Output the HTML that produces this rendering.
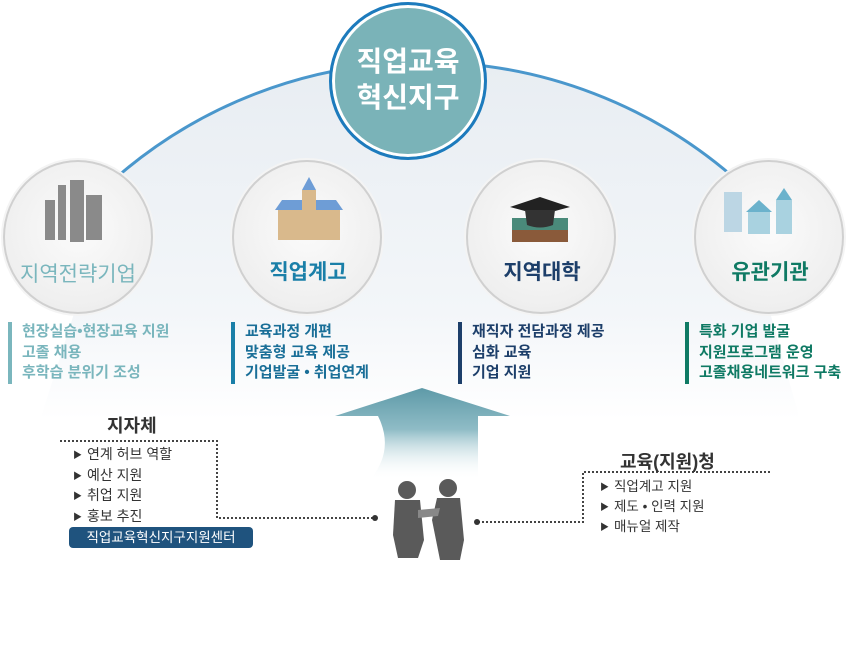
<!DOCTYPE html>
<html><head><meta charset="utf-8"><style>
body{margin:0;width:862px;height:670px;background:#fff;overflow:hidden;position:relative;font-family:"Liberation Sans","Noto Sans CJK KR",sans-serif}
.a{position:absolute;white-space:nowrap}
.list{position:absolute;font-weight:bold;font-size:15px;line-height:20.5px;padding-left:10px}
.n{position:absolute;width:146px;height:150px;border-radius:50%;background:radial-gradient(circle at 50% 45%,#fbfbfb,#efefef 70%,#e4e4e4);border:2px solid #d0d0d0;box-shadow:0 0 0 2px #f4f4f4}
.nl{position:absolute;font-size:21px;text-align:center;width:150px;font-weight:bold}
.it{font-size:14px;color:#333;line-height:19.5px}
.it span{font-size:9px;margin-right:5px;vertical-align:1px}
</style></head><body>
<svg class="a" style="left:0;top:0" width="862" height="670">
<defs>
<linearGradient id="bg" x1="0" y1="0" x2="0" y2="1"><stop offset="0" stop-color="#e8edf2"/><stop offset="0.7" stop-color="#f3f6f9"/><stop offset="1" stop-color="#fff"/></linearGradient>
<linearGradient id="ar" x1="0" y1="0" x2="0" y2="1"><stop offset="0" stop-color="#5e9aa8"/><stop offset="0.45" stop-color="#8fbcc6"/><stop offset="1" stop-color="#fff" stop-opacity="0"/></linearGradient>
</defs>
<path d="M118,176 A471,471 0 0 1 732,176 L800,420 L40,420 Z" fill="url(#bg)"/>
<path d="M118,176 A471,471 0 0 1 732,176" fill="none" stroke="#4a97cc" stroke-width="3"/>
<path d="M335,416 L422,388 L510,416 L478,416 L478,480 L370,480 Q395,450 378,416 Z" fill="url(#ar)"/>
<polyline points="60,441 217,441 217,518 375,518" fill="none" stroke="#444" stroke-width="2" stroke-dasharray="2,2"/>
<circle cx="375" cy="518" r="3" fill="#333"/>
<polyline points="770,472 583,472 583,522 477,522" fill="none" stroke="#444" stroke-width="2" stroke-dasharray="2,2"/>
<circle cx="477" cy="522" r="3" fill="#333"/>
<g fill="#5a5a5a">
<circle cx="407" cy="490" r="9"/><path d="M395,500 L420,500 L424,540 L418,558 L398,558 L393,535 Z"/>
<circle cx="448" cy="488" r="9"/><path d="M437,498 L460,498 L464,540 L460,560 L440,560 L432,520 Z"/>
<path d="M418,510 L440,508 L438,516 L418,518Z" fill="#888"/>
</g>
</svg>
<div class="a" style="left:329px;top:2px;width:152px;height:152px;border-radius:50%;background:#7ab3b8;border:3px solid #1d7bbd;box-shadow:0 0 0 3px #fff inset"></div>
<div class="a" style="left:332px;top:44px;width:152px;text-align:center;color:#fff;font-size:28px;font-weight:bold;line-height:36px">직업교육<br>혁신지구</div>
<div class="n" style="left:3px;top:160px"></div>
<div class="n" style="left:232px;top:160px"></div>
<div class="n" style="left:466px;top:160px"></div>
<div class="n" style="left:694px;top:160px"></div>
<svg class="a" style="left:0;top:0" width="862" height="300">
<g fill="#8a8a8a"><rect x="45" y="200" width="10" height="40"/><rect x="58" y="185" width="8" height="55"/><rect x="70" y="180" width="14" height="62"/><rect x="86" y="195" width="16" height="45"/></g>
<g><rect x="278" y="208" width="62" height="32" fill="#d9b98c"/><polygon points="275,210 343,210 336,200 282,200" fill="#6e9dd6"/><rect x="302" y="190" width="14" height="30" fill="#d9b98c"/><polygon points="302,190 316,190 309,177" fill="#6e9dd6"/></g>
<g><rect x="512" y="218" width="56" height="24" fill="#4a8a7a"/><rect x="512" y="230" width="56" height="12" fill="#8a5a3a"/><polygon points="510,207 540,197 570,207 540,215" fill="#222"/><path d="M525,210 L555,210 L553,225 Q540,230 527,225Z" fill="#333"/></g>
<g><rect x="724" y="192" width="18" height="40" fill="#bcd6e4"/><rect x="748" y="210" width="22" height="24" fill="#a9d2e0"/><polygon points="746,212 772,212 759,200" fill="#6bb2cc"/><rect x="776" y="200" width="16" height="34" fill="#a9d2e0"/><polygon points="776,200 792,200 784,188" fill="#6bb2cc"/></g>
</svg>
<div class="nl" style="left:3px;top:258px;color:#7ab6bd;font-weight:normal">지역전략기업</div>
<div class="nl" style="left:233px;top:256px;color:#1a7fa8">직업계고</div>
<div class="nl" style="left:467px;top:256px;color:#1d3f6a">지역대학</div>
<div class="nl" style="left:695px;top:256px;color:#0f7a64">유관기관</div>
<div class="list" style="left:8px;top:322px;border-left:4px solid #7ab6bd;color:#7ab6bd">현장실습•현장교육 지원<br>고졸 채용<br>후학습 분위기 조성</div>
<div class="list" style="left:231px;top:322px;border-left:4px solid #1a7fa8;color:#1a6f98">교육과정 개편<br>맞춤형 교육 제공<br>기업발굴 • 취업연계</div>
<div class="list" style="left:458px;top:322px;border-left:4px solid #1d3f6a;color:#1d3f6a">재직자 전담과정 제공<br>심화 교육<br>기업 지원</div>
<div class="list" style="left:685px;top:322px;border-left:4px solid #0f7a64;color:#0f7a64">특화 기업 발굴<br>지원프로그램 운영<br>고졸채용네트워크 구축</div>
<div class="a" style="left:107px;top:412px;font-size:18px;font-weight:bold;color:#333">지자체</div>
<div class="a it" style="left:73px;top:445px"><span>▶</span>연계 허브 역할<br><span>▶</span>예산 지원<br><span>▶</span>취업 지원<br><span>▶</span>홍보 추진</div>
<div class="a" style="left:69px;top:527px;width:184px;height:21px;border-radius:4px;background:#1f537e;color:#fff;font-size:13.5px;line-height:21px;text-align:center">직업교육혁신지구지원센터</div>
<div class="a" style="left:620px;top:448px;font-size:18px;font-weight:bold;color:#333">교육(지원)청</div>
<div class="a it" style="left:600px;top:477px;font-size:13.5px;line-height:19px"><span>▶</span>직업계고 지원<br><span>▶</span>제도 • 인력 지원<br><span>▶</span>매뉴얼 제작</div>
</body></html>
